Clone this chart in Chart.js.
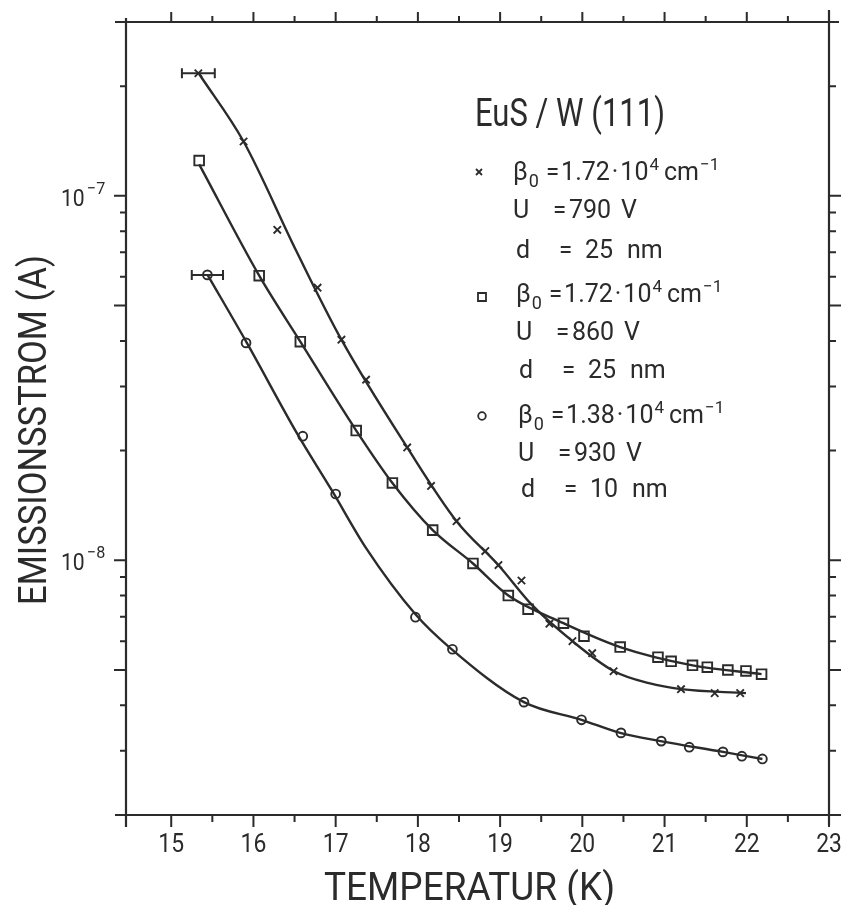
<!DOCTYPE html>
<html>
<head>
<meta charset="utf-8">
<script src="https://cdn.jsdelivr.net/npm/chart.js@4.4.1/dist/chart.umd.min.js"></script>
<style>
  html, body { margin: 0; padding: 0; background: #fff; }
  #wrap { width: 847px; height: 905px; }
</style>
</head>
<body>
<div id="wrap"><canvas id="chart" width="847" height="905"></canvas></div>
<script>
// measured points: temperature (K) and emission current (A)
const crossT = [15.33, 15.88, 16.29, 16.78, 17.07, 17.37, 17.87, 18.16, 18.47, 18.82, 18.98, 19.26, 19.60, 19.88, 20.12, 20.38, 21.20, 21.61, 21.92];
const crossI = [2.17e-7, 1.41e-7, 8.07e-8, 5.6e-8, 4.03e-8, 3.13e-8, 2.04e-8, 1.60e-8, 1.28e-8, 1.06e-8, 9.7e-9, 8.8e-9, 6.7e-9, 6.0e-9, 5.56e-9, 4.96e-9, 4.43e-9, 4.32e-9, 4.32e-9];

const squareT = [15.34, 16.07, 16.57, 17.25, 17.69, 18.18, 18.67, 19.10, 19.34, 19.77, 20.02, 20.46, 20.92, 21.08, 21.34, 21.52, 21.77, 21.99, 22.18];
const squareI = [1.25e-7, 6.04e-8, 3.98e-8, 2.27e-8, 1.63e-8, 1.21e-8, 9.8e-9, 8.0e-9, 7.34e-9, 6.72e-9, 6.19e-9, 5.78e-9, 5.42e-9, 5.28e-9, 5.15e-9, 5.09e-9, 5.0e-9, 4.97e-9, 4.87e-9];

const circleT = [15.44, 15.91, 16.60, 17.00, 17.97, 18.42, 19.29, 19.99, 20.47, 20.96, 21.30, 21.71, 21.94, 22.19];
const circleI = [6.07e-8, 3.95e-8, 2.19e-8, 1.52e-8, 6.98e-9, 5.70e-9, 4.08e-9, 3.65e-9, 3.36e-9, 3.19e-9, 3.07e-9, 2.98e-9, 2.90e-9, 2.85e-9];

// hand-drawn fit curves
const crossFitT = [15.34, 15.88, 16.52, 17.07, 17.87, 18.47, 18.98, 19.39, 19.88, 20.38, 20.81, 21.20, 21.99];
const crossFitI = [2.16e-7, 1.41e-7, 7.07e-8, 4.03e-8, 2.04e-8, 1.28e-8, 9.69e-9, 7.53e-9, 6.0e-9, 4.97e-9, 4.60e-9, 4.43e-9, 4.32e-9];
const squareFitT = [15.34, 16.07, 16.57, 17.25, 17.69, 18.18, 18.67, 19.10, 19.77, 20.46, 21.34, 22.18];
const squareFitI = [1.22e-7, 6.04e-8, 3.98e-8, 2.27e-8, 1.63e-8, 1.21e-8, 9.8e-9, 8.0e-9, 6.72e-9, 5.78e-9, 5.15e-9, 4.87e-9];
const circleFitT = [15.44, 15.92, 16.53, 16.95, 17.37, 17.97, 18.38, 19.29, 19.99, 20.46, 20.95, 21.71, 22.19];
const circleFitI = [6.08e-8, 3.95e-8, 2.23e-8, 1.56e-8, 1.08e-8, 7.11e-9, 5.78e-9, 4.08e-9, 3.65e-9, 3.36e-9, 3.19e-9, 2.98e-9, 2.85e-9];

// horizontal error (K) on the first point of a series
const crossErrT = 0.2;
const circleErrT = 0.19;

// axes
const xMajorTicks = [15, 16, 17, 18, 19, 20, 21, 22, 23];
const xMinorTicks = [15.5, 16.5, 17.5, 18.5, 19.5, 20.5, 21.5, 22.5];
const yLabelTicks = [1e-7, 1e-8];
const yLabelExp = ['−7', '−8'];
const yMidTicks = [5e-8, 5e-9];
const yMinorTicks = [2e-7, 9e-8, 8e-8, 7e-8, 6e-8, 4e-8, 3e-8, 2e-8, 9e-9, 8e-9, 7e-9, 6e-9, 4e-9, 3e-9];

// legend text
const sampleTitle = 'EuS / W (111)';
const betaValues = ['1.72', '1.72', '1.38'];
const voltValues = ['790', '860', '930'];
const thickValues = ['25', '25', '10'];

const INK = '#2b2b2b';
const FONT = 'Roboto, "DejaVu Sans", sans-serif';

function txt(ctx, s, x, y, size, sx) {
  ctx.save();
  ctx.font = size + 'px ' + FONT;
  ctx.translate(x, y);
  ctx.scale(sx || 1, 1);
  ctx.fillText(s, 0, 0);
  ctx.restore();
}

function fitTxt(ctx, s, x, y, size, width) {
  ctx.font = size + 'px ' + FONT;
  const w = ctx.measureText(s).width;
  txt(ctx, s, x, y, size, width / w);
}

// draw pieces one after another: [text, size, dy, gap]
function seq(ctx, parts, x, y) {
  parts.forEach(([s, size, dy, gap]) => {
    x += gap;
    ctx.font = size + 'px ' + FONT;
    ctx.fillText(s, x, y + dy);
    x += ctx.measureText(s).width;
  });
}

function drawCross(ctx, x, y, r) {
  ctx.beginPath();
  ctx.moveTo(x - r, y - r); ctx.lineTo(x + r, y + r);
  ctx.moveTo(x - r, y + r); ctx.lineTo(x + r, y - r);
  ctx.stroke();
}

const paperPlugin = {
  id: 'paper',
  afterDatasetsDraw(chart) {
    const ctx = chart.ctx;
    const xs = chart.scales.x, ys = chart.scales.y;
    ctx.save();
    ctx.strokeStyle = INK;
    ctx.lineWidth = 2;
    const bars = [[crossT[0], crossI[0], crossErrT], [circleT[0], circleI[0], circleErrT]];
    bars.forEach(([t, i, e]) => {
      const x0 = xs.getPixelForValue(t - e), x1 = xs.getPixelForValue(t + e);
      const y = ys.getPixelForValue(i);
      ctx.beginPath();
      ctx.moveTo(x0, y); ctx.lineTo(x1, y);
      ctx.moveTo(x0, y - 5); ctx.lineTo(x0, y + 5);
      ctx.moveTo(x1, y - 5); ctx.lineTo(x1, y + 5);
      ctx.stroke();
    });
    ctx.restore();
  },
  afterDraw(chart) {
    const ctx = chart.ctx;
    const a = chart.chartArea;
    const xs = chart.scales.x, ys = chart.scales.y;
    ctx.save();
    ctx.strokeStyle = INK;
    ctx.fillStyle = INK;
    ctx.lineCap = 'butt';

    // frame, lines run a little past the corners
    ctx.lineWidth = 2.2;
    ctx.beginPath();
    ctx.moveTo(a.left - 11, a.top); ctx.lineTo(a.right + 10, a.top);
    ctx.moveTo(a.left - 11, a.bottom); ctx.lineTo(a.right + 12, a.bottom);
    ctx.moveTo(a.left, a.top - 4); ctx.lineTo(a.left, a.bottom + 12);
    ctx.moveTo(a.right, a.top - 12); ctx.lineTo(a.right, a.bottom + 10);
    ctx.stroke();

    // x ticks (bottom and top, outward)
    ctx.lineWidth = 2;
    ctx.beginPath();
    xMajorTicks.forEach(v => {
      const x = xs.getPixelForValue(v);
      ctx.moveTo(x, a.bottom); ctx.lineTo(x, a.bottom + 12);
      ctx.moveTo(x, a.top); ctx.lineTo(x, a.top - 10);
    });
    xMinorTicks.forEach(v => {
      const x = xs.getPixelForValue(v);
      ctx.moveTo(x, a.bottom); ctx.lineTo(x, a.bottom + 7);
      ctx.moveTo(x, a.top); ctx.lineTo(x, a.top - 6);
    });
    // y ticks (left and right, outward)
    yLabelTicks.concat(yMidTicks).forEach(v => {
      const y = ys.getPixelForValue(v);
      ctx.moveTo(a.left, y); ctx.lineTo(a.left - 12, y);
      ctx.moveTo(a.right, y); ctx.lineTo(a.right + 12, y);
    });
    yMinorTicks.forEach(v => {
      const y = ys.getPixelForValue(v);
      ctx.moveTo(a.left, y); ctx.lineTo(a.left - 6, y);
      ctx.moveTo(a.right, y); ctx.lineTo(a.right + 7, y);
    });
    ctx.stroke();

    // x tick labels
    ctx.textAlign = 'center';
    ctx.textBaseline = 'alphabetic';
    xMajorTicks.forEach(v => {
      const x = xs.getPixelForValue(v);
      ctx.save();
      ctx.font = '26px ' + FONT;
      ctx.translate(x, a.bottom + 37);
      ctx.scale(0.88, 1);
      ctx.fillText(String(v), 0, 0);
      ctx.restore();
    });

    // y tick labels 10^n
    ctx.textAlign = 'left';
    yLabelTicks.forEach((v, k) => {
      const y = ys.getPixelForValue(v);
      txt(ctx, '10', 61, y + 10, 24, 0.88);
      txt(ctx, yLabelExp[k], 87, y - 2, 17, 0.95);
    });

    // axis titles
    fitTxt(ctx, 'TEMPERATUR (K)', 324, 900, 38, 291);
    ctx.save();
    ctx.translate(46, 605);
    ctx.rotate(-Math.PI / 2);
    fitTxt(ctx, 'EMISSIONSSTROM (A)', 0, 0, 38, 350);
    ctx.restore();

    // in-plot legend
    fitTxt(ctx, sampleTitle, 475, 126, 39, 190);
    const rows = [180, 302, 423];
    const shift = [0, 3, 5];
    rows.forEach((b, k) => {
      const d = shift[k];
      seq(ctx, [
        ['β', 25, 0, 0], ['0', 18, 7, 1], ['=', 24, 0, 7], [betaValues[k], 25, 0, 2],
        ['·', 25, 0, 2], ['10', 25, 0, 2], ['4', 17, -10, 1], ['cm', 25, 0, 5], ['−1', 17, -10, 1]
      ], 513 + d, b);

      const bu = b + 38;
      txt(ctx, 'U', 513 + d, bu, 25);
      txt(ctx, '=', 553 + d, bu, 24);
      txt(ctx, voltValues[k], 569 + d, bu, 25);
      txt(ctx, 'V', 621 + d, bu, 25);

      const bd = b + 78 - k * 2;
      txt(ctx, 'd', 516 + d, bd, 25);
      txt(ctx, '=', 559 + d, bd, 24);
      txt(ctx, thickValues[k], 585 + d, bd, 25);
      txt(ctx, 'nm', 627 + d, bd, 25);
    });

    // legend markers
    ctx.lineWidth = 1.8;
    drawCross(ctx, 479, 172, 3);
    ctx.fillStyle = '#fff';
    ctx.beginPath(); ctx.rect(478, 293, 8, 8); ctx.fill(); ctx.stroke();
    ctx.beginPath(); ctx.arc(482, 416, 3.8, 0, Math.PI * 2); ctx.fill(); ctx.stroke();

    ctx.restore();
  }
};

const pts = (ts, is) => ts.map((t, i) => ({ x: t, y: is[i] }));
const fitStyle = {
  borderColor: INK,
  borderWidth: 2.4,
  pointRadius: 0,
  cubicInterpolationMode: 'monotone',
  fill: false
};
const markStyle = {
  showLine: false,
  pointBorderColor: INK,
  pointBackgroundColor: '#fff',
  pointBorderWidth: 1.9
};

new Chart(document.getElementById('chart'), {
  type: 'line',
  data: {
    datasets: [
      Object.assign({ label: 'x fit', data: pts(crossFitT, crossFitI) }, fitStyle),
      Object.assign({ label: 'square fit', data: pts(squareFitT, squareFitI) }, fitStyle),
      Object.assign({ label: 'circle fit', data: pts(circleFitT, circleFitI) }, fitStyle),
      Object.assign({ label: 'x', data: pts(crossT, crossI), pointStyle: 'crossRot', pointRadius: 5.2 }, markStyle),
      Object.assign({ label: 'square', data: pts(squareT, squareI), pointStyle: 'rect', pointRadius: 6.8 }, markStyle),
      Object.assign({ label: 'circle', data: pts(circleT, circleI), pointStyle: 'circle', pointRadius: 4.4 }, markStyle)
    ]
  },
  options: {
    responsive: false,
    animation: false,
    events: [],
    layout: { padding: { left: 126, right: 18, top: 22, bottom: 90 } },
    plugins: { legend: { display: false }, tooltip: { enabled: false } },
    scales: {
      x: { type: 'linear', min: 14.45, max: 23, display: false },
      y: { type: 'logarithmic', min: 2e-9, max: 3e-7, display: false }
    }
  },
  plugins: [paperPlugin]
});
</script>
</body>
</html>
